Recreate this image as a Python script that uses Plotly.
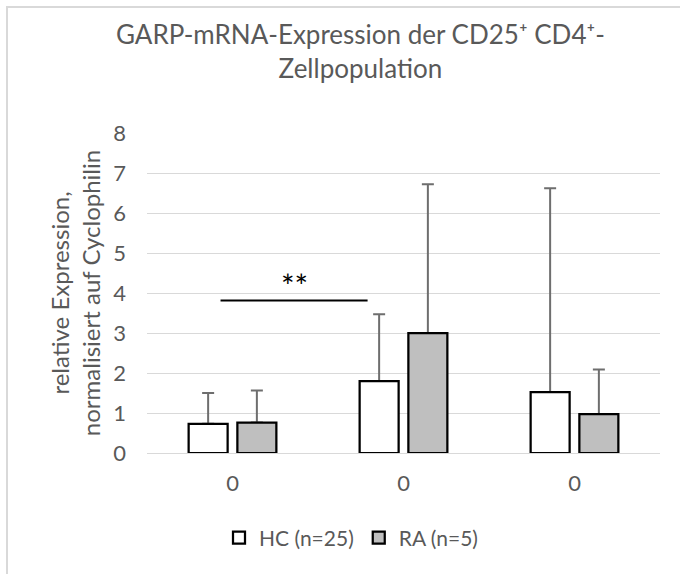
import plotly.graph_objects as go

# ---- data ----
categories = ["0", "0", "0"]
series_names = ["HC (n=25)", "RA (n=5)"]
hc_values = [0.73, 1.80, 1.52]
ra_values = [0.76, 3.00, 0.97]
hc_err_plus = [0.77, 1.67, 5.10]
ra_err_plus = [0.80, 3.72, 1.12]
y_ticks = [0, 1, 2, 3, 4, 5, 6, 7, 8]
sig_x = [-0.07, 0.79]
sig_y = 3.81
sig_label = "**"

title_text = "GARP-mRNA-Expression der CD25⁺ CD4⁺-<br>Zellpopulation"
y_title = "relative Expression,<br>normalisiert auf Cyclophilin"

FONT = "Lato"
GRAY_TXT = "#595959"
x_pos = list(range(len(categories)))

fig = go.Figure()

# error-bar carrier traces (drawn first, hidden behind the visible bars)
for name, vals, err in [(series_names[0], hc_values, hc_err_plus),
                        (series_names[1], ra_values, ra_err_plus)]:
    fig.add_trace(go.Bar(
        x=x_pos, y=vals, offsetgroup=name, showlegend=False, hoverinfo="skip",
        marker=dict(color="rgba(0,0,0,0)", line=dict(width=0)),
        error_y=dict(type="data", symmetric=False, array=err,
                     arrayminus=[0] * len(err), color="#6e6e6e",
                     thickness=2, width=6),
    ))

# visible bars
for name, vals, fill in [(series_names[0], hc_values, "#ffffff"),
                         (series_names[1], ra_values, "#bfbfbf")]:
    fig.add_trace(go.Bar(
        x=x_pos, y=vals, name=name, offsetgroup=name,
        marker=dict(color=fill, line=dict(color="#000000", width=2.25)),
    ))

fig.add_shape(type="line", xref="x", yref="y", x0=sig_x[0], x1=sig_x[1],
              y0=sig_y, y1=sig_y, line=dict(color="#000000", width=2))
fig.add_annotation(x=(sig_x[0] + sig_x[1]) / 2, y=sig_y, xref="x", yref="y",
                   text=sig_label, showarrow=False, yanchor="bottom",
                   yshift=-6, font=dict(family=FONT, size=32, color="#000000"))

# y-axis title
fig.add_annotation(x=-0.14, y=0.5, xref="paper", yref="paper", text=y_title,
                   textangle=-90, showarrow=False, xanchor="center",
                   yanchor="middle",
                   font=dict(family=FONT, size=24, color=GRAY_TXT))

# chart-area border (left/top visible)
fig.add_shape(type="rect", xref="paper", yref="paper",
              x0=(7 - 147) / 513, x1=2.0, y0=-2.0, y1=(453 - 7) / 320,
              line=dict(color="#d9d9d9", width=2), fillcolor="rgba(0,0,0,0)",
              layer="below")

fig.update_layout(
    width=680, height=574,
    margin=dict(l=147, r=20, t=133, b=121),
    paper_bgcolor="white", plot_bgcolor="white",
    barmode="group", bargap=0.43, bargroupgap=0.2,
    font=dict(family=FONT, color=GRAY_TXT, size=22),
    title=dict(text=title_text, x=0.53, xref="container", xanchor="center",
               y=1 - 44 / 574, yref="container", yanchor="top",
               font=dict(family=FONT, size=26, color=GRAY_TXT)),
    xaxis=dict(range=[-0.5, 2.5], tickvals=x_pos, ticktext=categories,
               showgrid=False, zeroline=False, showline=False,
               ticks="", ticklabelstandoff=15,
               tickfont=dict(family=FONT, size=22, color=GRAY_TXT)),
    yaxis=dict(range=[0, 8], tickvals=y_ticks, showgrid=True,
               gridcolor="#d9d9d9", gridwidth=1.25, zeroline=True,
               zerolinecolor="#d9d9d9", zerolinewidth=1.25, showline=False,
               ticks="", ticklabelstandoff=20,
               tickfont=dict(family=FONT, size=22, color=GRAY_TXT)),
    legend=dict(orientation="h", x=(219 - 147) / 513, xanchor="left",
                y=(453 - 538) / 320, yanchor="middle",
                font=dict(family=FONT, size=21, color=GRAY_TXT),
                bgcolor="rgba(0,0,0,0)"),
    showlegend=True,
)

fig.write_html("out.html")
